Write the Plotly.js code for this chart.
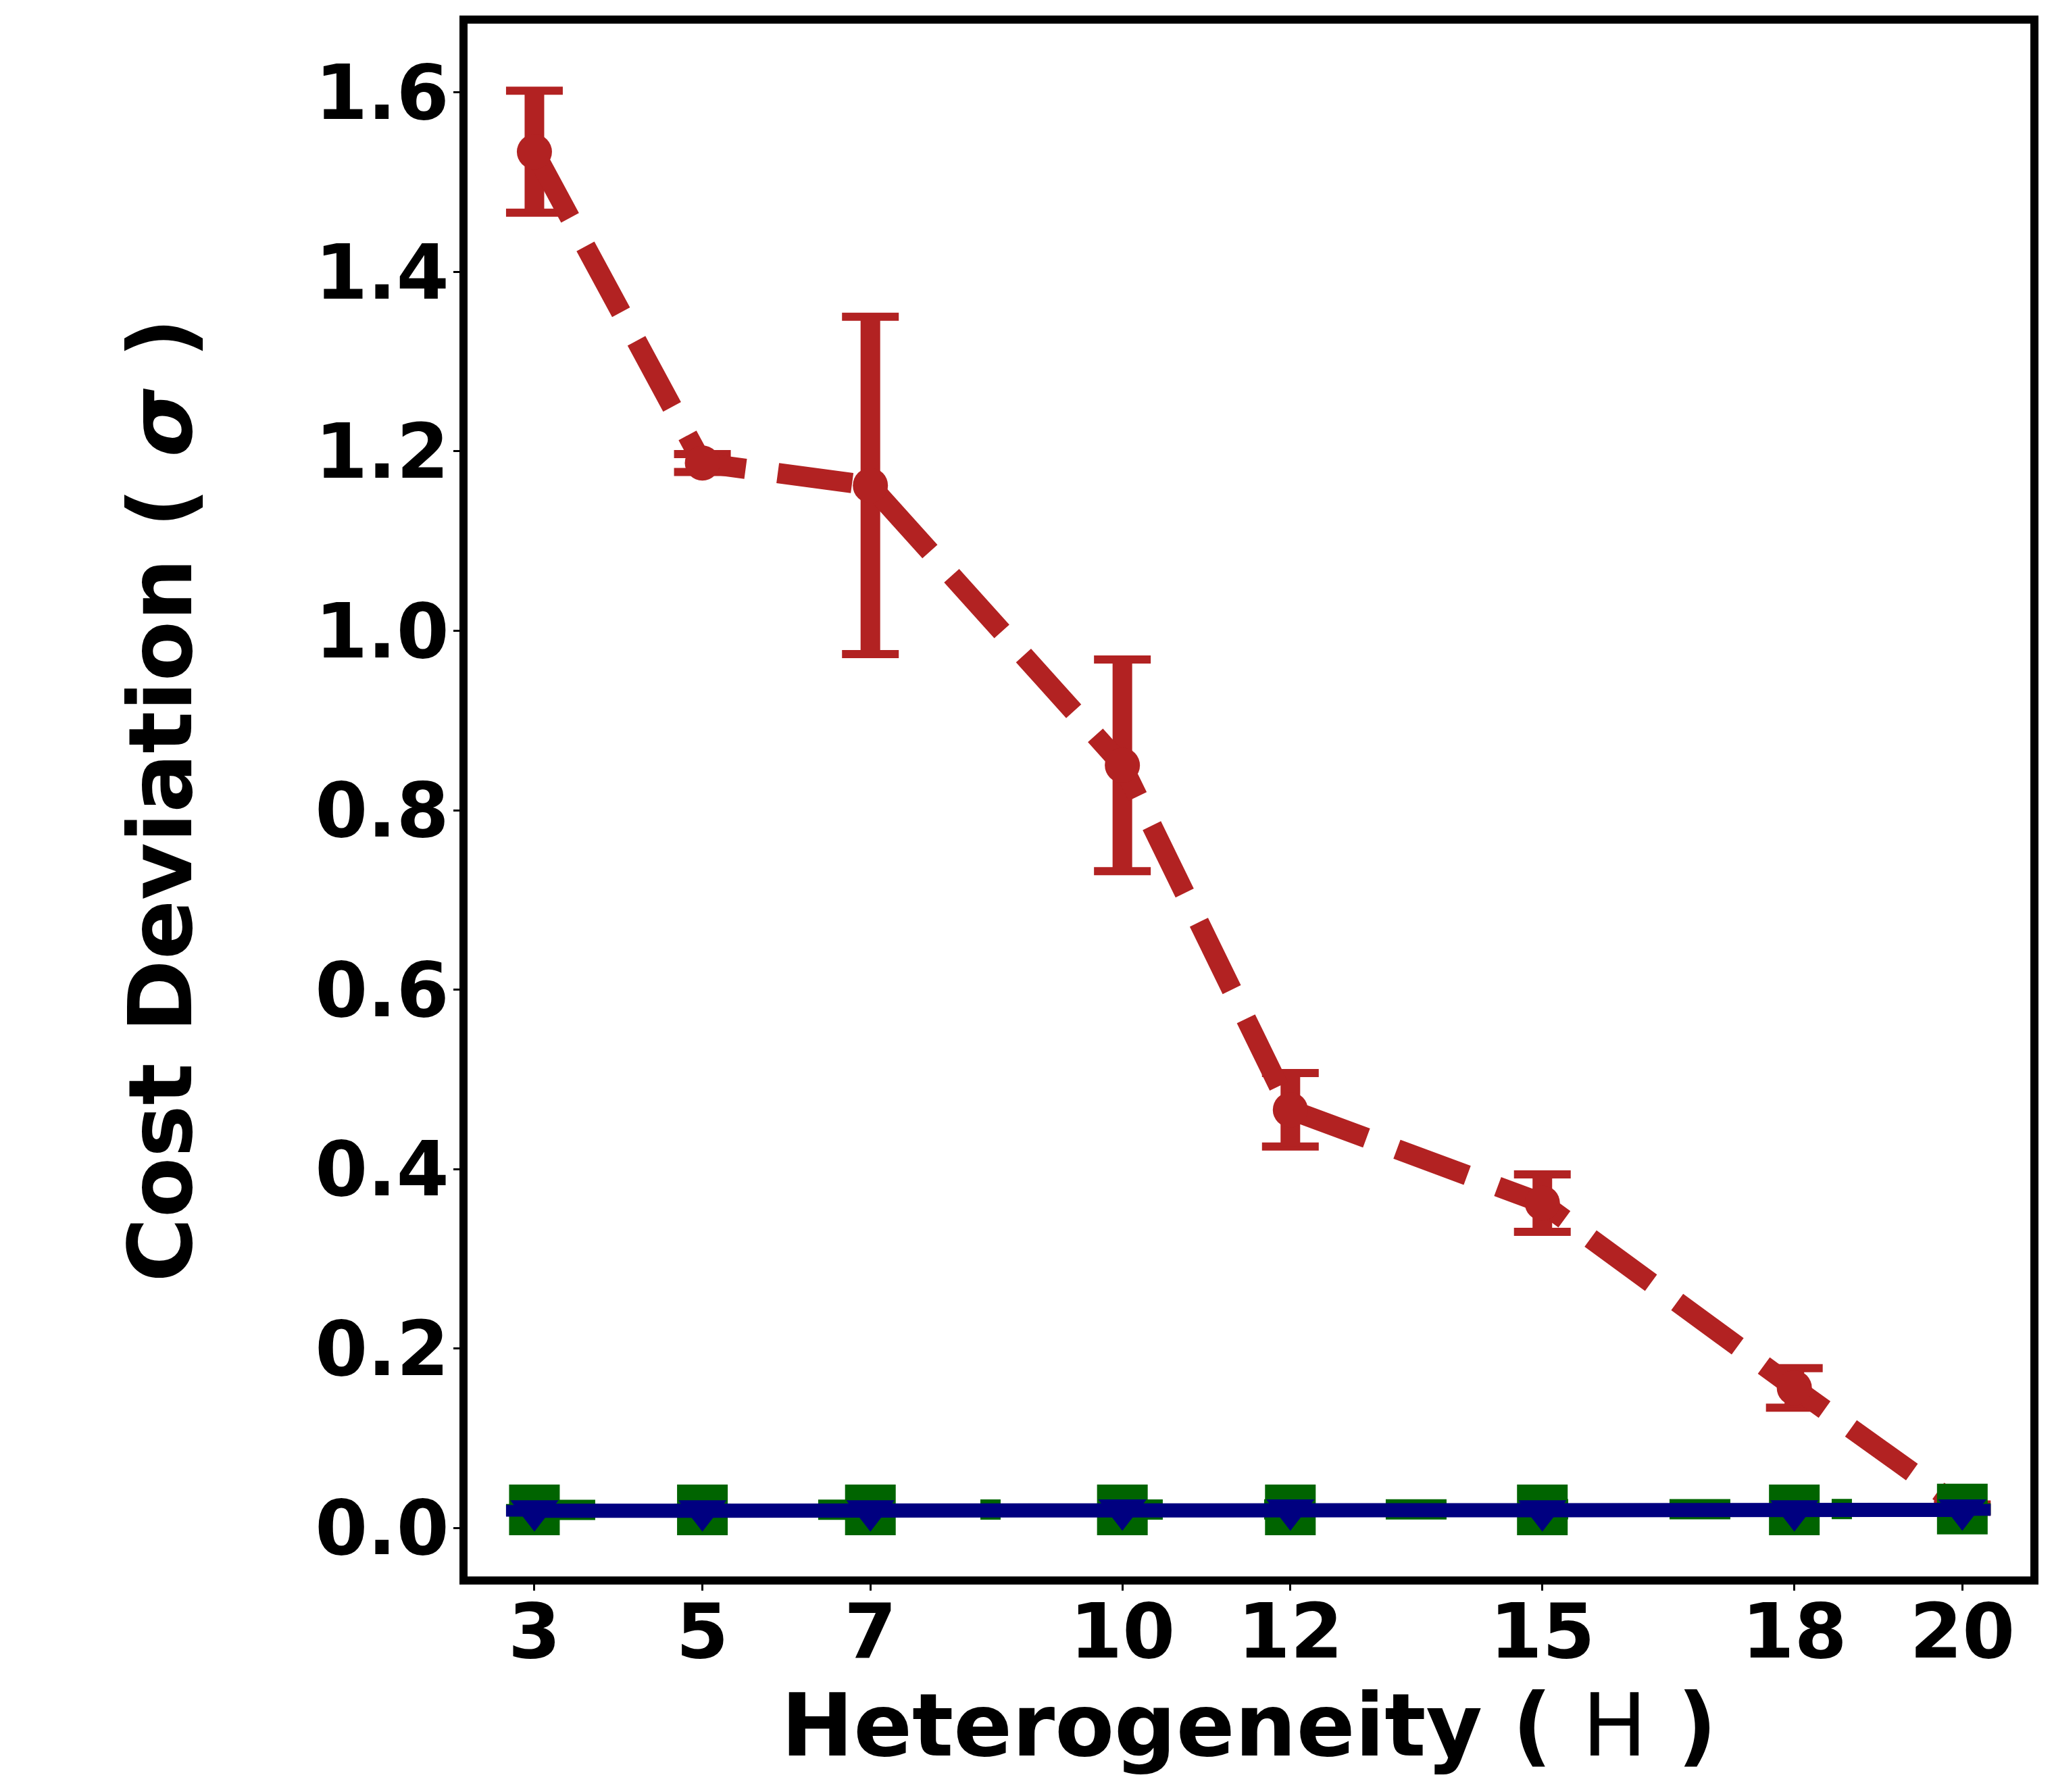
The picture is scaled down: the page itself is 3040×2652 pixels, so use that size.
<!DOCTYPE html>
<html>
<head>
<meta charset="utf-8">
<script src="https://cdn.plot.ly/plotly-3.0.1.min.js"></script>
<style>html,body{margin:0;padding:0;background:#fff;}</style>
</head>
<body>
<div id="chart" style="width:3040px;height:2652px;"></div>
<script>
// ---- data ----
const heterogeneity = [3, 5, 7, 10, 12, 15, 18, 20];
const xTickLabels = ["3", "5", "7", "10", "12", "15", "18", "20"];
const redValues = [1.534, 1.187, 1.162, 0.850, 0.466, 0.362, 0.156, 0.022];
const redErrors = [0.068, 0.010, 0.188, 0.118, 0.041, 0.032, 0.022, 0.004];
const greenValues = [0.020, 0.020, 0.020, 0.020, 0.020, 0.020, 0.020, 0.021];
const greenErrors = [0.002, 0.002, 0.002, 0.002, 0.002, 0.002, 0.002, 0.002];
const blueValues = [0.019, 0.019, 0.019, 0.020, 0.020, 0.019, 0.019, 0.020];
const blueErrors = [0.002, 0.002, 0.002, 0.002, 0.002, 0.002, 0.002, 0.002];
const yTickVals = [0.0, 0.2, 0.4, 0.6, 0.8, 1.0, 1.2, 1.4, 1.6];

const RED = "#B22222", GREEN = "#006400", BLUE = "#000080";
const FONT = "DejaVu Sans";

function capTrace(y, err, color) {
  return {
    x: heterogeneity, y: y, type: "scatter", mode: "markers",
    marker: {size: 1, opacity: 0},
    error_y: {type: "data", array: err, visible: true, color: color, thickness: 12, width: 42},
    showlegend: false, hoverinfo: "skip"
  };
}

const traces = [
  capTrace(redValues, redErrors, RED),
  {
    x: heterogeneity, y: redValues, type: "scatter", mode: "lines+markers",
    line: {color: RED, width: 30, dash: "111px,48px"},
    marker: {symbol: "circle", size: 52, color: RED},
    error_y: {type: "data", array: redErrors, visible: true, color: RED, thickness: 29, width: 0},
    showlegend: false
  },
  capTrace(greenValues, greenErrors, GREEN),
  {
    x: heterogeneity, y: greenValues, type: "scatter", mode: "lines+markers",
    line: {color: GREEN, width: 30, dash: "90px,150px,30px,150px"},
    marker: {symbol: "square", size: 75, color: GREEN},
    error_y: {type: "data", array: greenErrors, visible: true, color: GREEN, thickness: 29, width: 0},
    showlegend: false
  },
  capTrace(blueValues, blueErrors, BLUE),
  {
    x: heterogeneity, y: blueValues, type: "scatter", mode: "lines+markers",
    line: {color: BLUE, width: 21},
    marker: {symbol: "triangle-down", size: 62, color: BLUE, standoff: -8},
    error_y: {type: "data", array: blueErrors, visible: true, color: BLUE, thickness: 21, width: 0},
    showlegend: false
  }
];

const layout = {
  width: 3040, height: 2652,
  paper_bgcolor: "#ffffff", plot_bgcolor: "#ffffff",
  margin: {l: 692, r: 35, t: 35, b: 319, pad: 0},
  font: {family: FONT, color: "#000000"},
  showlegend: false,
  xaxis: {
    range: [2.204, 20.81], tickmode: "array", tickvals: heterogeneity, ticktext: xTickLabels,
    showgrid: false, zeroline: false,
    showline: true, linecolor: "#000", linewidth: 12, mirror: true,
    ticks: "outside", ticklen: 9, tickwidth: 3, tickcolor: "#000",
    ticklabelstandoff: -35,
    tickfont: {family: FONT, size: 112, color: "#000", weight: "bold"},
    title: {text: "Heterogeneity ( <span style=\"font-weight:normal\">H</span> )", standoff: 5,
            font: {family: FONT, size: 128, color: "#000", weight: "bold"}},
    automargin: false
  },
  yaxis: {
    range: [-0.0542, 1.6768], tickmode: "array", tickvals: yTickVals,
    tickformat: ".1f",
    showgrid: false, zeroline: false,
    showline: true, linecolor: "#000", linewidth: 12, mirror: true,
    ticks: "outside", ticklen: 9, tickwidth: 3, tickcolor: "#000",
    ticklabelstandoff: -16,
    tickfont: {family: FONT, size: 112, color: "#000", weight: "bold"},
    title: {text: "Cost Deviation ( <i>σ</i> )", standoff: 144,
            font: {family: FONT, size: 130, color: "#000", weight: "bold"}},
    automargin: false
  }
};

Plotly.newPlot("chart", traces, layout, {displayModeBar: false, staticPlot: true});
</script>
</body>
</html>
